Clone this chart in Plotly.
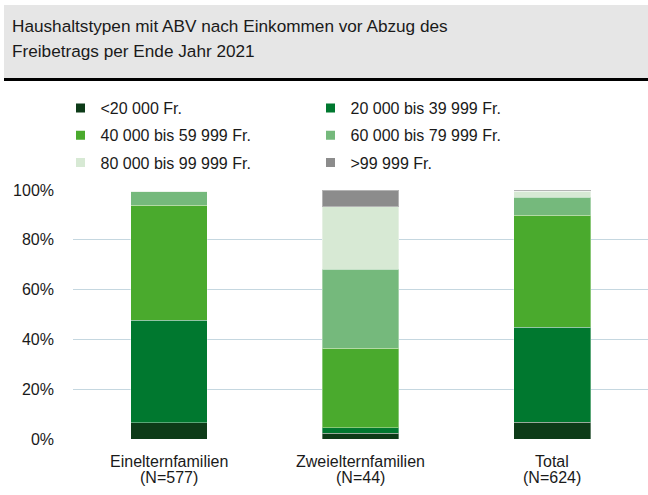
import plotly.graph_objects as go

categories = ["Einelternfamilien", "Zweielternfamilien", "Total"]
n_labels = ["(N=577)", "(N=44)", "(N=624)"]
series_names = ["<20 000 Fr.", "20 000 bis 39 999 Fr.", "40 000 bis 59 999 Fr.",
                "60 000 bis 79 999 Fr.", "80 000 bis 99 999 Fr.", ">99 999 Fr."]
lt20 = [6.6, 2.3, 6.7]
b20_39 = [41.0, 2.3, 38.2]
b40_59 = [46.3, 31.8, 45.0]
b60_79 = [5.4, 31.8, 7.1]
b80_99 = [0.2, 25.0, 2.6]
gt99 = [0.0, 6.8, 0.4]
series_values = [lt20, b20_39, b40_59, b60_79, b80_99, gt99]
colors = ["#0d3b18", "#00782f", "#4aaa2d", "#75b97c", "#d7e9d4", "#8c8c8c"]
y_ticks = [0, 20, 40, 60, 80, 100]
y_tick_labels = ["0%", "20%", "40%", "60%", "80%", "100%"]
title_lines = ["Haushaltstypen mit ABV nach Einkommen vor Abzug des",
               "Freibetrags per Ende Jahr 2021"]

FONT = "Liberation Sans, Arial, sans-serif"
TXT = "#1a1a1a"

W, H = 648, 495
L, R, T, B = 73, 0, 190, 56
pw = W - L - R
ph = H - T - B

def px_x(px):
    return (px - L) / pw

def px_y(py):
    return (H - B - py) / ph

legend_ids = ["legend", "legend", "legend2", "legend2", "legend3", "legend3"]

fig = go.Figure()
for name, vals, col in zip(series_names, series_values, colors):
    fig.add_trace(go.Bar(
        x=categories, y=vals, name=name, marker_color=col,
        marker_line=dict(color="rgba(255,255,255,0.35)", width=1),
        width=0.4, showlegend=False,
    ))
for name, col, lg in zip(series_names, colors, legend_ids):
    fig.add_trace(go.Scatter(
        x=[None], y=[None], mode="markers", name=name, legend=lg,
        marker=dict(symbol="square", size=9, color=col), showlegend=True,
    ))

leg_common = dict(orientation="h", x=px_x(60.5), xanchor="left", yanchor="top",
                  yref="paper", entrywidth=205, entrywidthmode="pixels",
                  font=dict(size=16, color=TXT), bgcolor="rgba(0,0,0,0)",
                  traceorder="normal")

fig.update_layout(
    width=W, height=H,
    margin=dict(l=L, r=R, t=T, b=B, pad=0),
    barmode="stack",
    paper_bgcolor="white", plot_bgcolor="white",
    font=dict(family=FONT, size=16, color=TXT),
    xaxis=dict(categoryorder="array", categoryarray=categories,
               range=[-0.5, 2.5], showticklabels=False, showgrid=False,
               zeroline=False, showline=False, fixedrange=True),
    yaxis=dict(range=[0, 100], tickmode="array", tickvals=y_ticks,
               ticktext=y_tick_labels,
               showgrid=True, gridcolor="#c5d7e0", gridwidth=1.3,
               zeroline=False, showline=False, ticklabelstandoff=18,
               tickfont=dict(size=16, color=TXT), fixedrange=True),
    legend=dict(leg_common, y=px_y(91)),
    legend2=dict(leg_common, y=px_y(118.3)),
    legend3=dict(leg_common, y=px_y(145.6)),
    showlegend=True,
)

# Title box
fig.add_shape(type="rect", xref="paper", yref="paper",
              x0=px_x(4), x1=px_x(648), y0=px_y(78), y1=px_y(5),
              fillcolor="#e6e6e6", line=dict(width=0), layer="below")
fig.add_shape(type="line", xref="paper", yref="paper",
              x0=px_x(4), x1=px_x(648), y0=px_y(79.5), y1=px_y(79.5),
              line=dict(color="black", width=3))
for line, yc in zip(title_lines, [25.5, 51]):
    fig.add_annotation(text=line, xref="paper", yref="paper",
                       x=px_x(10), y=px_y(yc), xanchor="left", yanchor="middle",
                       align="left", showarrow=False,
                       font=dict(size=17.2, color=TXT, family=FONT))

# Category labels
for cat, nl in zip(categories, n_labels):
    fig.add_annotation(text=cat, x=cat, xref="x", y=0, yref="paper",
                       yanchor="middle", yshift=-22.7, showarrow=False,
                       font=dict(size=16, color=TXT))
    fig.add_annotation(text=nl, x=cat, xref="x", y=0, yref="paper",
                       yanchor="middle", yshift=-38.5, showarrow=False,
                       font=dict(size=16, color=TXT))

fig.write_html("out.html", config={"displayModeBar": False},
               post_script="document.body.style.margin='0';")
